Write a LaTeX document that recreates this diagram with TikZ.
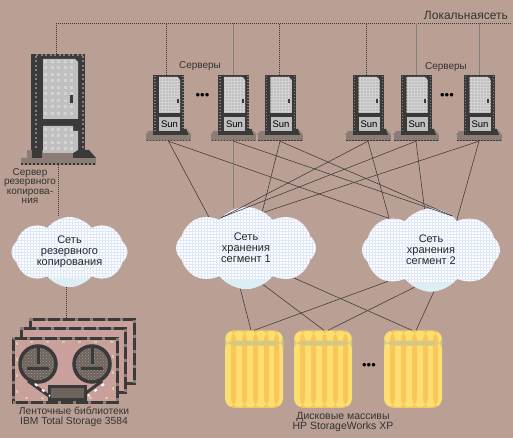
\documentclass[tikz,border=0pt]{standalone}
\usepackage{fontspec}
\setmainfont{Liberation Sans}
\usetikzlibrary{calc}
\usetikzlibrary{positioning}
\usetikzlibrary{patterns}
\usetikzlibrary{shapes.symbols}
\definecolor{bgtaupe}{HTML}{BA9F94}
\definecolor{srvdark}{HTML}{3A3A3A}
\definecolor{srvgrain}{HTML}{8C7C76}
\definecolor{doorgrey}{HTML}{C0C0C0}
\definecolor{doorlight}{HTML}{D2D2D2}
\definecolor{tapepink}{HTML}{C9A09C}
\definecolor{tapetan}{HTML}{D6CC9C}
\definecolor{reelgrey}{HTML}{6E645D}
\definecolor{reelgrain}{HTML}{A2968E}
\definecolor{diskyellow}{HTML}{FBE071}
\definecolor{diskorange}{HTML}{FAC65A}
\definecolor{diskband}{HTML}{D6C882}
\definecolor{cloudblue}{HTML}{DFE8F8}
\definecolor{cloudcyan}{HTML}{DDEEF2}
\tikzstyle{label} = [text=black!80, font=\fontsize{10}{9.5}\selectfont, align=center, inner sep=0pt]
\tikzstyle{srvbody} = [rectangle, fill=srvdark, inner sep=0pt]
\tikzstyle{srvbase} = [rectangle, fill=srvgrain, inner sep=0pt, minimum width=45pt, minimum height=6pt]
\tikzstyle{sunplate} = [rectangle, fill=doorgrey, inner sep=0pt, minimum width=21pt, minimum height=14pt, text=black, font=\fontsize{9.5}{10}\selectfont]
\tikzstyle{grain} = [srvgrain, line width=1.5pt, dash pattern=on 1.5pt off 1.5pt]
\tikzstyle{netcloud} = [cloud, cloud puffs=8, cloud puff arc=105, cloud ignores aspect, inner sep=0pt, align=center,
text=black!85, font=\fontsize{11}{11}\selectfont,
preaction={fill=white}, pattern=grid, pattern color=cloudblue,
path picture={\fill[cloudcyan] ([yshift=9pt]path picture bounding box.south west) rectangle (path picture bounding box.south east);}]
\tikzstyle{disk} = [rectangle, rounded corners=9pt, minimum width=58pt, minimum height=77pt, inner sep=0pt, fill=diskyellow,
path picture={
\foreach \stripe in {-23,-12,-1,10,20} {
\fill[diskorange] ([xshift=\stripe pt]path picture bounding box.north) rectangle ([xshift=\stripe pt+5pt]path picture bounding box.south);
}
\fill[diskband] ([yshift=-10pt]path picture bounding box.north west) rectangle ([yshift=-15pt]path picture bounding box.north east);
}]
\tikzstyle{tapecard} = [rectangle, draw=srvdark, line width=3pt, fill=tapepink, minimum width=104pt, minimum height=64pt, inner sep=0pt,
postaction={draw=srvgrain, dash pattern=on 3pt off 12pt}]
\tikzstyle{ellipsis} = [inner sep=0pt, text=black, font=\fontsize{13}{13}\selectfont]
\tikzstyle{lanlink} = [srvdark, line width=0.6pt, dash pattern=on 1pt off 1pt]
\tikzstyle{lanlinkgrey} = [black!50, line width=0.8pt]
\tikzstyle{san} = [srvdark, line width=0.55pt]
% one small rack, #1 name, #2 x
\newcommand{\sunserver}[2]{
\begin{scope}[shift={(#2,105)}]
\fill[srvgrain] (-20,26) -- (20,26) -- (23,30) -- (-23,30) -- cycle;
\node[srvbody, minimum width=31pt, minimum height=60pt] (#1) at (0,0) {};
\node[srvbase] (#1b) at (0,33) {};
\fill[srvdark] (14,24) -- (18,24) -- (20,30) -- (14,30) -- cycle;
\fill[srvdark] (-15,24) -- (-10,24) -- (-10,30) -- (-15,30) -- cycle;
\draw[srvdark, line width=1pt, dash pattern=on 1.5pt off 1.5pt] (-22,35.5) -- (22,35.5);
\draw[grain] (-13.5,-29) -- (-13.5,28);
\draw[grain] (14.5,-29) -- (14.5,24);
\fill[doorgrey] (-9.5,-28) -- (9,-28) -- (11.5,-25) -- (11.5,8) -- (-9.5,8) -- cycle;
\path[pattern=grid, pattern color=doorlight] (-9.5,-28) -- (9,-28) -- (11.5,-25) -- (11.5,8) -- (-9.5,8) -- cycle;
\fill[srvdark] (8,-6) rectangle (10,-2);
\node[sunplate] (#1s) at (1,19) {Sun};
\end{scope}
}
\begin{document}
\begin{tikzpicture}[x=1pt,y=-1pt]
\path[use as bounding box, fill=bgtaupe] (0,0) rectangle (513,438);
\coordinate (lanL) at (56,23);
\coordinate (lanR) at (511,23);
\node[label, font=\fontsize{12}{12}\selectfont, anchor=east] (lanname) at (508,15) {Локальнаясеть};
% backup server
\node[srvbody, minimum width=54pt, minimum height=104pt] (backupsrv) at (58,106) {};
\node[srvbase, minimum width=75pt, minimum height=7pt] (backupsrvb) at (58.5,161.5) {};
\fill[srvgrain] (27,150) -- (73,150) -- (73,158) -- (27,158) -- cycle;
\fill[srvdark] (32,150) rectangle (42,158);
\fill[srvdark] (73,150) -- (89,150) -- (96,158) -- (73,158) -- cycle;
\draw[srvdark, line width=1.5pt, dash pattern=on 2pt off 2pt] (21,164) -- (96,164);
\draw[grain, line width=2pt, dash pattern=on 2pt off 2.5pt] (36,56) -- (36,150);
\draw[grain, line width=2pt, dash pattern=on 2pt off 2.5pt] (83,56) -- (83,150);
\draw[grain, line width=2pt, dash pattern=on 2pt off 2.5pt] (36,55) -- (84,55);
\fill[doorgrey] (43,59) -- (75,59) -- (78,62) -- (78,119) -- (43,119) -- cycle;
\fill[doorgrey] (43,126) -- (73,126) -- (73,131) -- (78,131) -- (78,150) -- (73,153) -- (43,153) -- cycle;
\foreach \doorx in {44,50.5,57,63.5,70} {
\foreach \doory in {60,66.5,73,79.5,86,92.5,99,105.5,112,128,134.5,141,147.5} {
\fill[doorlight] (\doorx,\doory) rectangle +(3,3);
}
}
\fill[srvdark] (70,95) rectangle (73,103);
\node[label, anchor=north] (backuplabel) at (30,168) {Сервер\\резервного\\копирова-\\ния};
% sun racks
\sunserver{srvA}{168.5}
\sunserver{srvB}{233.5}
\sunserver{srvC}{280}
\sunserver{srvD}{368}
\sunserver{srvE}{416}
\sunserver{srvF}{479}
\node[label] (srvnameL) at (200,66) {Серверы};
\node[label] (srvnameR) at (446,67) {Серверы};
\node[ellipsis] (dotsL) at (202.5,96) {•••};
\node[ellipsis] (dotsR) at (447,96) {•••};
% clouds
\node[netcloud, minimum width=116pt, minimum height=70pt] (cloudA) at (69.5,252) {Сеть\\резервного\\копирования};
\node[netcloud, minimum width=140pt, minimum height=82pt] (cloudB) at (246,248) {Сеть\\хранения\\сегмент 1};
\node[netcloud, minimum width=138pt, minimum height=83pt] (cloudC) at (431,250) {Сеть\\хранения\\сегмент 2};
% tape libraries
\node[tapecard] (tapeC) at (82.5,351.5) {};
\node[tapecard] (tapeB) at (73.5,360.5) {};
\node[tapecard] (tapeA) at (65,370) {};
\draw[tapetan, line width=2.5pt, dash pattern=on 3pt off 13pt] (17,342) rectangle (113,398);
\foreach \reelx in {38,92} {
\fill[reelgrey, draw=srvdark, line width=3.5pt] (\reelx,364) circle (18);
\path[pattern=crosshatch dots, pattern color=reelgrain] (\reelx,364) circle (16);
\draw[srvdark, line width=3pt] (\reelx,348) -- (\reelx,364) (\reelx-11,368) -- (\reelx+11,368);
}
\draw[srvdark, line width=3pt] (28,381) -- (49,396) (102,381) -- (82,396);
\fill[reelgrey, draw=srvdark, line width=3pt] (49,386) rectangle (85,399);
\draw[white, line width=2pt, dash pattern=on 3pt off 6pt] (35,384) -- (50,396);
\draw[white, line width=2pt, dash pattern=on 3pt off 6pt] (104,384) -- (88,396);
\node[label, font=\fontsize{10.3}{10.5}\selectfont] (tapename) at (74,417) {Ленточные библиотеки\\IBM Total Storage 3584};
% disks
\node[disk] (diskA) at (254,369) {};
\node[disk] (diskB) at (323,369) {};
\node[disk] (diskC) at (413,369) {};
\node[ellipsis] (dotsD) at (369,366) {•••};
\node[label, font=\fontsize{10.5}{10.5}\selectfont] (diskname) at (343,422) {Дисковые массивы\\HP StorageWorks XP};
% lan
\draw[lanlink] (lanL) -- (lanR);
\draw[lanlink] ([xshift=-2pt]backupsrv.north) -- ([xshift=-2pt]backupsrv.north |- lanL);
\draw[lanlink] ([xshift=-2pt]srvA.north) -- ([xshift=-2pt]srvA.north |- lanL);
\draw[lanlinkgrey] (srvB.north) -- (srvB.north |- lanL);
\draw[lanlink] ([xshift=-1pt]srvC.north) -- ([xshift=-1pt]srvC.north |- lanL);
\draw[lanlink] ([xshift=-2pt]srvD.north) -- ([xshift=-2pt]srvD.north |- lanL);
\draw[lanlinkgrey] (srvE.north) -- (srvE.north |- lanL);
\draw[lanlinkgrey] (srvF.north) -- (srvF.north |- lanL);
\draw[lanlink] (backupsrvb.south) -- (backupsrvb.south |- cloudA.north);
\draw[lanlink] ([xshift=-3pt]cloudA.south) -- ([xshift=-3pt]cloudA.south |- tapeC.north);
% san fabric
\draw[san] (srvAb.south) -- (cloudB.140);
\draw[san] (srvAb.south) -- (cloudC.143);
\draw[lanlinkgrey] (srvBb.south) -- (srvBb.south |- cloudB.103);
\draw[san] (srvBb.south) -- (cloudC.58);
\draw[san] (srvCb.south) -- (cloudB.66);
\draw[san] (srvCb.south) -- (cloudC.58);
\draw[san] (srvDb.south) -- (cloudB.130);
\draw[san] (srvDb.south) -- (cloudC.143);
\draw[san] (srvEb.south) -- (cloudB.129);
\draw[san] (srvEb.south) -- (cloudC.99);
\draw[san] (srvFb.south) -- (cloudB.63);
\draw[san] (srvFb.south) -- (cloudC.49);
% disk links
\draw[san] (cloudB.262) -- ([xshift=-3pt]diskA.north);
\draw[san] (cloudB.295) -- ([xshift=1pt]diskB.north);
\draw[san] (cloudB.328) -- ([xshift=-1pt]diskC.north);
\draw[san] (cloudC.216) -- (diskA.north);
\draw[san] (cloudC.246) -- ([xshift=5pt]diskB.north);
\draw[san] (cloudC.274) -- ([xshift=3pt]diskC.north);
\end{tikzpicture}
\end{document}
